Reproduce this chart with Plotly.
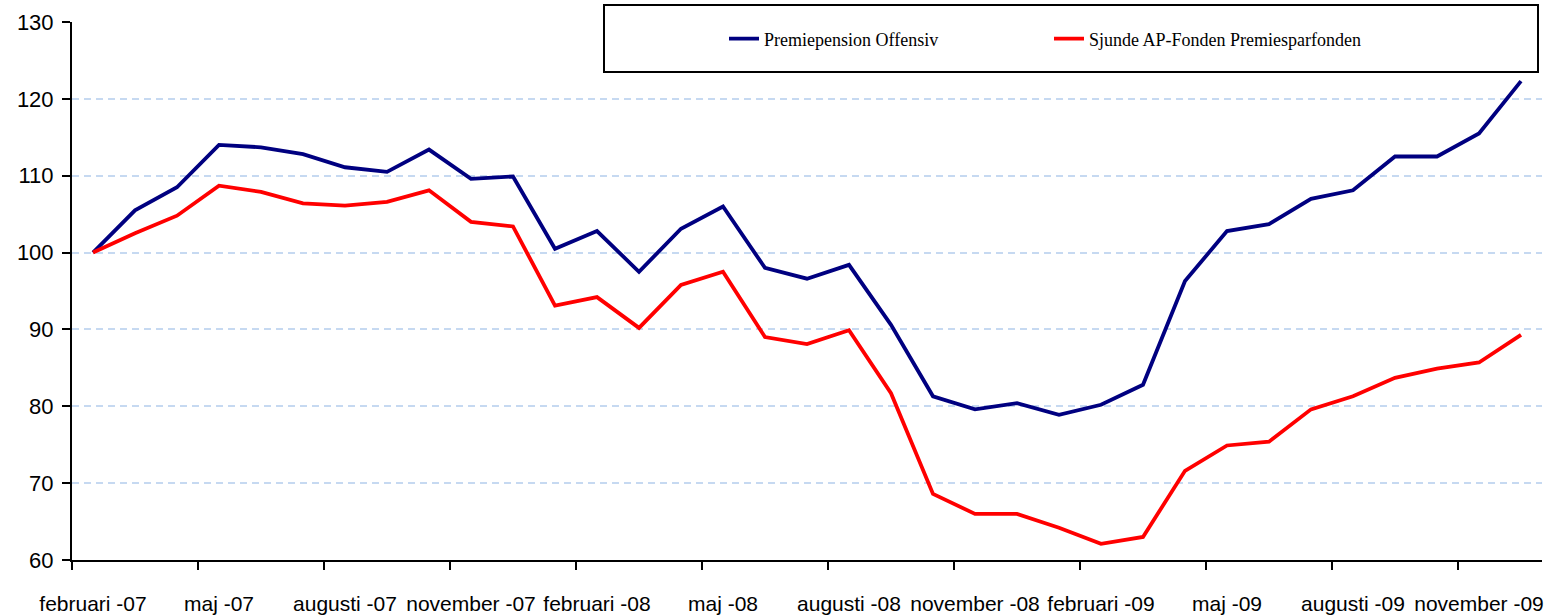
import plotly.graph_objects as go

months = ["februari", "mars", "april", "maj", "juni", "juli", "augusti", "september",
          "oktober", "november", "december", "januari"]
categories = []
for k in range(35):
    m = months[k % 12]
    yr = 7 + (k + 1) // 12
    categories.append(f"{m} -{yr:02d}")

offensiv = [100.0, 105.5, 108.5, 114.0, 113.7, 112.8, 111.1, 110.5, 113.4, 109.6,
            109.9, 100.5, 102.8, 97.5, 103.1, 106.0, 98.0, 96.6, 98.4, 90.6,
            81.3, 79.6, 80.4, 78.9, 80.2, 82.8, 96.3, 102.8, 103.7, 107.0,
            108.1, 112.5, 112.5, 115.5, 122.3]
premiespar = [100.0, 102.5, 104.8, 108.7, 107.9, 106.4, 106.1, 106.6, 108.1, 104.0,
              103.4, 93.1, 94.2, 90.2, 95.8, 97.5, 89.0, 88.1, 89.9, 81.7,
              68.6, 66.0, 66.0, 64.2, 62.1, 63.0, 71.6, 74.9, 75.4, 79.6,
              81.3, 83.7, 84.9, 85.7, 89.3]
y_ticks = [60, 70, 80, 90, 100, 110, 120, 130]

idx = list(range(len(categories)))
label_idx = idx[::3]
label_text = [categories[i] for i in label_idx]
boundary_ticks = [i - 0.5 for i in label_idx]

PL, PR, PT, PB = 72, 1542, 22, 560
PW, PH = PR - PL, PB - PT


def px(x):
    return (x - PL) / PW


def py(y):
    return (PB - y) / PH


fig = go.Figure()
fig.add_trace(go.Scatter(x=idx, y=offensiv, mode="lines", name="Premiepension Offensiv",
                         line=dict(color="#000080", width=3.8), legend="legend", showlegend=True))
fig.add_trace(go.Scatter(x=idx, y=premiespar, mode="lines", name="Sjunde AP-Fonden Premiesparfonden",
                         line=dict(color="#ff0000", width=3.8), legend="legend2", showlegend=True))

legfont = dict(family="Liberation Serif", size=18, color="#000000")
fig.update_layout(
    width=1552, height=616, showlegend=True,
    margin=dict(l=PL, r=1552 - PR, t=PT, b=616 - PB),
    paper_bgcolor="white", plot_bgcolor="white",
    font=dict(family="Arial, Liberation Sans", color="#000000"),
    xaxis=dict(
        range=[-0.5, 34.5], showgrid=False, zeroline=False, automargin=False,
        showline=True, linecolor="#000000", linewidth=2,
        tickmode="array", tickvals=label_idx, ticktext=label_text,
        ticks="", tickfont=dict(size=21, family="Arial, Liberation Sans"),
        ticklabelstandoff=24,
        minor=dict(tickmode="array", tickvals=boundary_ticks, ticks="outside",
                   ticklen=8, tickwidth=2, tickcolor="#000000", showgrid=False),
    ),
    yaxis=dict(
        range=[60, 130], tickmode="array", tickvals=y_ticks, automargin=False,
        showgrid=True, gridcolor="#c6d9f1", gridwidth=2, griddash="7px,5px",
        zeroline=False, showline=True, linecolor="#000000", linewidth=2,
        ticks="outside", ticklen=8, tickwidth=2, tickcolor="#000000",
        tickfont=dict(size=22, family="Arial, Liberation Sans"),
        ticklabelstandoff=4,
    ),
    legend=dict(orientation="h", x=px(724), y=py(39), xref="paper", yref="paper",
                xanchor="left", yanchor="middle", bgcolor="rgba(0,0,0,0)",
                font=legfont),
    legend2=dict(orientation="h", x=px(1049), y=py(39), xref="paper", yref="paper",
                 xanchor="left", yanchor="middle", bgcolor="rgba(0,0,0,0)",
                 font=legfont),
    shapes=[dict(type="rect", xref="paper", yref="paper",
                 x0=px(604), x1=px(1538), y0=py(72), y1=py(5),
                 line=dict(color="#000000", width=2), fillcolor="white", layer="above")],
)
fig.write_html("out.html", config={"displayModeBar": False},
               post_script="document.body.style.margin='0';")
